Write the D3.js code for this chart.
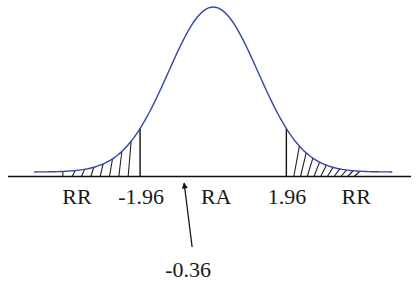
<!DOCTYPE html>
<html>
<head>
<meta charset="utf-8">
<script src="https://cdn.jsdelivr.net/npm/d3@7"></script>
<style>
    body { margin: 0; background: #fff; }
    svg { display: block; }
    text { font-family: "Liberation Serif", "Times New Roman", serif; fill: #1a1a1a; }
</style>
</head>
<body>
<div class="chart"></div>
<script>
    // data
    var regionLabels = ["RR", "-1.96", "RA", "1.96", "RR"];
    var labelValues = [-3.65, -1.93, 0.08, 1.98, 3.83];
    var criticalValues = [-1.96, 1.96];
    var statLabel = "-0.36";
    var statValue = -0.78; // where the arrow is drawn on the sketch
    var curveSigma = 1.2;
    var curveExtent = [-4.8, 4.8];

    //globals
    var width = 417;
    var height = 287;
    var axisY = 176.5;

    const svgDoc = d3.select(".chart")
        .append("svg")
        .attr("width", width)
        .attr("height", height);

    var x = d3.scaleLinear()
        .domain([-5.5, 5.3])
        .range([8, 411]);

    var y = d3.scaleLinear()
        .domain([0, 1])
        .range([172, 7]);

    var density = function (v) {
        var z = v / curveSigma;
        return Math.exp(-z * z / 2);
    };

    //hatch lines under both tails
    var leftHatch = d3.range(curveExtent[0] + 0.77, criticalValues[0] - 0.1, 0.25);
    var rightHatch = d3.range(criticalValues[1] + 0.2, 3.85, 0.18);

    var hatch = svgDoc.append("g")
        .attr("stroke", "#222")
        .attr("stroke-width", 1.1);

    hatch.selectAll("line.left")
        .data(leftHatch)
        .enter()
        .append("line")
        .attr("class", "left")
        .attr("x1", function (d) { return x(d); })
        .attr("y1", axisY)
        .attr("x2", function (d, i) { return i === 0 ? x(d) : x(d + 0.08); })
        .attr("y2", function (d, i) { return y(density(i === 0 ? d : d + 0.08)); });

    hatch.selectAll("line.right")
        .data(rightHatch)
        .enter()
        .append("line")
        .attr("class", "right")
        .attr("x1", function (d) { return x(d); })
        .attr("y1", axisY)
        .attr("x2", function (d) { return x(d + 0.15); })
        .attr("y2", function (d) { return y(density(d + 0.15)); });

    //critical value lines
    svgDoc.append("g").selectAll("line")
        .data(criticalValues)
        .enter()
        .append("line")
        .attr("x1", function (d) { return x(d); })
        .attr("x2", function (d) { return x(d); })
        .attr("y1", axisY)
        .attr("y2", function (d) { return y(density(d)); })
        .attr("stroke", "#111")
        .attr("stroke-width", 1.4);

    //bell curve
    var curvePoints = d3.range(curveExtent[0], curveExtent[1] + 0.001, 0.05);
    var line = d3.line()
        .x(function (d) { return x(d); })
        .y(function (d) { return y(density(d)); })
        .curve(d3.curveBasis);

    svgDoc.append("path")
        .datum(curvePoints)
        .attr("d", line)
        .attr("fill", "none")
        .attr("stroke", "#3446a6")
        .attr("stroke-width", 1.4);

    //axis line
    svgDoc.append("line")
        .attr("x1", x.range()[0])
        .attr("x2", x.range()[1])
        .attr("y1", axisY)
        .attr("y2", axisY)
        .attr("stroke", "#111")
        .attr("stroke-width", 1.5);

    //region labels
    svgDoc.append("g").selectAll("text")
        .data(regionLabels)
        .enter()
        .append("text")
        .attr("x", function (d, i) { return x(labelValues[i]); })
        .attr("y", 204)
        .attr("text-anchor", "middle")
        .style("font-size", "22px")
        .text(function (d) { return d; });

    //arrow for the test statistic
    svgDoc.append("defs").append("marker")
        .attr("id", "head")
        .attr("viewBox", "0 0 10 10")
        .attr("refX", 9)
        .attr("refY", 5)
        .attr("markerWidth", 7)
        .attr("markerHeight", 6)
        .attr("markerUnits", "userSpaceOnUse")
        .attr("orient", "auto")
        .append("path")
        .attr("d", "M0,0 L10,5 L0,10 Z")
        .attr("fill", "#111");

    svgDoc.append("line")
        .attr("x1", x(statValue) + 8)
        .attr("y1", 247)
        .attr("x2", x(statValue))
        .attr("y2", 183)
        .attr("stroke", "#111")
        .attr("stroke-width", 1.3)
        .attr("marker-end", "url(#head)");

    svgDoc.append("text")
        .attr("x", x(statValue) + 4)
        .attr("y", 277)
        .attr("text-anchor", "middle")
        .style("font-size", "22px")
        .text(statLabel);
</script>
</body>
</html>
